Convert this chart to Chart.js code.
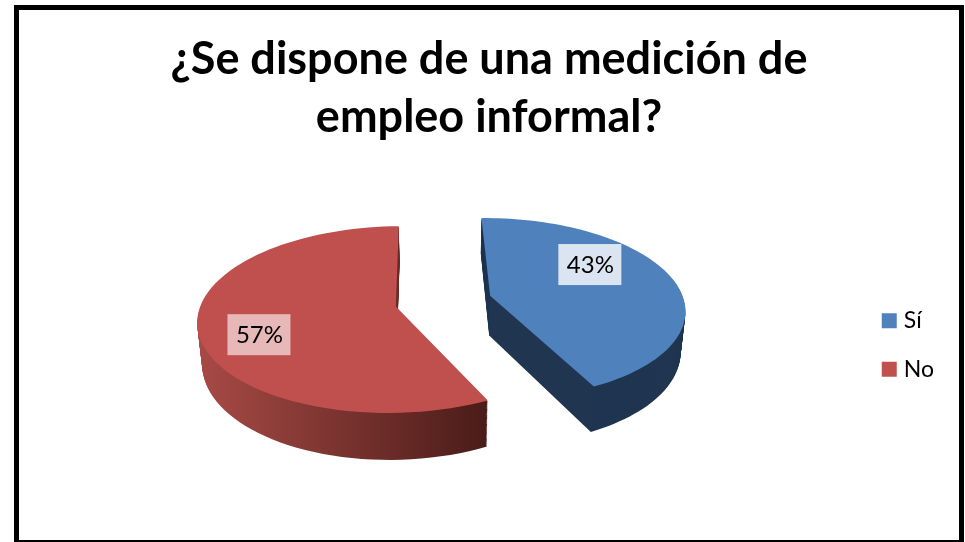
<!DOCTYPE html>
<html>
<head>
<meta charset="utf-8">
<title>Empleo informal</title>
<script src="https://cdn.jsdelivr.net/npm/chart.js@4"></script>
<style>
    html, body { margin: 0; padding: 0; background: #fff; overflow: hidden; }
    #page { position: relative; width: 965px; height: 542px; overflow: hidden; }
    #frame { position: absolute; left: 14px; top: 5px; width: 950px; height: 540px; box-sizing: border-box; border: 5px solid #000; }
    canvas { position: absolute; left: 0; top: 0; }
</style>
</head>
<body>
<div id="page">
    <div id="frame"></div>
    <canvas id="pie" width="965" height="542"></canvas>
</div>
<script>
const titleLines = ['¿Se dispone de una medición de', 'empleo informal?'];
const categories = ['Sí', 'No'];
const values = [43, 57];
const faceColors = ['#4f81bd', '#c0504d'];
const labelBoxColors = ['#dbe5f1', '#e6b9b8'];

// Chart.js has no 3D pie, so this plugin takes the arcs it laid out and
// draws them tilted, with a stack of layers underneath for the thickness
const tiltedPie = {
    id: 'tiltedPie',
    beforeDatasetsDraw(chart, args, opts) {
        const ctx = chart.ctx;
        const arcs = chart.getDatasetMeta(0).data;
        const cx = arcs[0].x + opts.shiftX;
        const cy = arcs[0].y + opts.shiftY;

        function project(u, v, d) {
            const w = 1 / (1 - v / opts.vanish);
            const shrink = 1 - d * opts.shrink;
            return [cx + u * w * shrink, cy + opts.squash * v * w + d * w];
        }

        function outline(arc, d) {
            const half = (arc.startAngle + arc.endAngle) / 2;
            const shift = arc.options.offset / 4;
            const ox = Math.cos(half) * shift;
            const oy = Math.sin(half) * shift;
            ctx.beginPath();
            ctx.moveTo(...project(ox, oy, d));
            for (let i = 0; i <= 80; i++) {
                const a = arc.startAngle + (arc.endAngle - arc.startAngle) * i / 80;
                const u = ox + Math.cos(a) * arc.outerRadius;
                const v = oy + Math.sin(a) * arc.outerRadius;
                ctx.lineTo(...project(u, v, d));
            }
            ctx.closePath();
        }

        const redSide = ctx.createLinearGradient(opts.gradientFrom, 0, opts.gradientTo, 0);
        redSide.addColorStop(0, '#a84a46');
        redSide.addColorStop(1, '#4a1c18');
        const sideFills = ['#1f3550', redSide];

        arcs.forEach((arc, i) => {
            ctx.fillStyle = sideFills[i];
            for (let d = opts.depth; d > 0; d--) {
                outline(arc, d);
                ctx.fill();
            }
            ctx.fillStyle = arc.options.backgroundColor;
            outline(arc, 0);
            ctx.fill();
        });

        // percentage boxes
        ctx.font = opts.labelFont;
        ctx.textAlign = 'center';
        ctx.textBaseline = 'middle';
        arcs.forEach((arc, i) => {
            const half = (arc.startAngle + arc.endAngle) / 2;
            const shift = arc.options.offset / 4;
            const dist = arc.outerRadius * opts.labelAt[i].f;
            const p = project(Math.cos(half) * (shift + dist), Math.sin(half) * (shift + dist), 0);
            const x = p[0];
            const y = p[1] + opts.labelAt[i].dy;
            ctx.fillStyle = labelBoxColors[i];
            ctx.fillRect(x - 32, y - 20.5, 63, 41);
            ctx.fillStyle = '#000';
            ctx.fillText(values[i] + '%', x, y + 1);
        });
        return false;
    }
};

new Chart(document.getElementById('pie'), {
    type: 'pie',
    plugins: [tiltedPie],
    data: {
        labels: categories,
        datasets: [{
            data: values,
            backgroundColor: faceColors,
            borderWidth: 0,
            offset: 194
        }]
    },
    options: {
        responsive: false,
        animation: false,
        events: [],
        rotation: -1,
        radius: 194,
        layout: { padding: { left: 34, right: 21, top: 30, bottom: 0 } },
        plugins: {
            title: {
                display: true,
                text: titleLines,
                color: '#000',
                font: { family: 'Lato', size: 45, weight: 'bold', lineHeight: 1.29 },
                padding: { top: 0, bottom: 2 }
            },
            legend: {
                position: 'right',
                fullSize: false,
                labels: {
                    usePointStyle: true,
                    pointStyle: 'rect',
                    boxWidth: 6,
                    boxHeight: 15,
                    padding: 25.5,
                    color: '#000',
                    font: { family: 'Lato', size: 23 }
                }
            },
            tooltip: { enabled: false },
            tiltedPie: {
                shiftX: -4,
                shiftY: -44,
                squash: 0.464,
                vanish: 1385,
                shrink: 0.0005,
                depth: 40,
                gradientFrom: 197,
                gradientTo: 487,
                labelFont: '24px Lato',
                labelAt: [{ f: 0.55, dy: -20 }, { f: 0.695, dy: 13 }]
            }
        }
    }
});
</script>
</body>
</html>
